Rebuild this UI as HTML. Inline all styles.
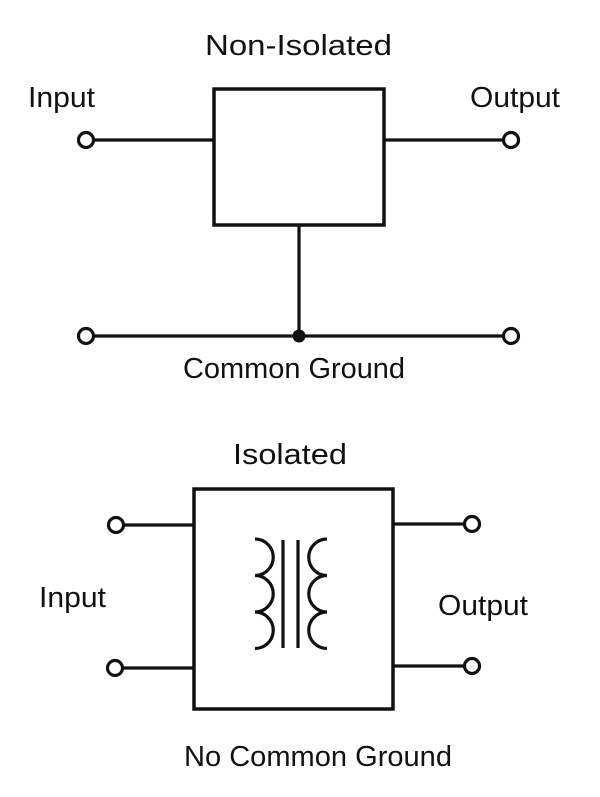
<!DOCTYPE html>
<html>
<head>
<meta charset="utf-8">
<style>
  html, body { margin: 0; padding: 0; background: #ffffff; }
  body { width: 600px; height: 797px; overflow: hidden; }
  svg { display: block; }
  text { font-family: "Liberation Sans", "DejaVu Sans", sans-serif; font-size: 29px; fill: #111; }
</style>
</head>
<body>
<svg width="600" height="797" viewBox="0 0 600 797" xmlns="http://www.w3.org/2000/svg">
  <rect x="0" y="0" width="600" height="797" fill="#ffffff"/>

  <!-- ===== Top: Non-Isolated ===== -->
  <text x="205" y="55" textLength="187" lengthAdjust="spacingAndGlyphs">Non-Isolated</text>
  <text x="28" y="107" textLength="67" lengthAdjust="spacingAndGlyphs">Input</text>
  <text x="470" y="107" textLength="90" lengthAdjust="spacingAndGlyphs">Output</text>

  <g stroke="#111" fill="none" stroke-width="3.2">
    <rect x="214" y="89" width="170" height="136" stroke-width="3.5"/>
    <line x1="93.5" y1="140" x2="214" y2="140"/>
    <line x1="384" y1="140" x2="503.5" y2="140"/>
    <line x1="299" y1="225" x2="299" y2="336"/>
    <line x1="93.5" y1="336" x2="503.5" y2="336"/>
    <circle cx="86" cy="140" r="7.5" fill="#fff"/>
    <circle cx="511" cy="140" r="7.5" fill="#fff"/>
    <circle cx="86" cy="336" r="7.5" fill="#fff"/>
    <circle cx="511" cy="336" r="7.5" fill="#fff"/>
  </g>
  <circle cx="299" cy="336" r="6.5" fill="#111"/>

  <text x="183" y="378" textLength="222" lengthAdjust="spacingAndGlyphs">Common Ground</text>

  <!-- ===== Bottom: Isolated ===== -->
  <text x="233" y="464" textLength="114" lengthAdjust="spacingAndGlyphs">Isolated</text>

  <g stroke="#111" fill="none" stroke-width="3.2">
    <rect x="194" y="489" width="199" height="220" stroke-width="3.5"/>
    <line x1="123.5" y1="525" x2="194" y2="525"/>
    <line x1="122.5" y1="668" x2="194" y2="668"/>
    <line x1="393" y1="524" x2="464.5" y2="524"/>
    <line x1="393" y1="666" x2="464.5" y2="666"/>
    <circle cx="116" cy="525" r="7.5" fill="#fff"/>
    <circle cx="115" cy="668" r="7.5" fill="#fff"/>
    <circle cx="472" cy="524" r="7.5" fill="#fff"/>
    <circle cx="472" cy="666" r="7.5" fill="#fff"/>

    <!-- transformer -->
    <path d="M255,539 A18.2,18.2 0 0 1 255,575.5 A18.2,18.2 0 0 1 255,612 A18.2,18.2 0 0 1 255,648.5"/>
    <path d="M327,539 A18.2,18.2 0 0 0 327,575.5 A18.2,18.2 0 0 0 327,612 A18.2,18.2 0 0 0 327,648.5"/>
    <line x1="283" y1="540" x2="283" y2="648"/>
    <line x1="298" y1="540" x2="298" y2="648"/>
  </g>

  <text x="39" y="607" textLength="67" lengthAdjust="spacingAndGlyphs">Input</text>
  <text x="438" y="615" textLength="90" lengthAdjust="spacingAndGlyphs">Output</text>

  <text x="184" y="766" textLength="268" lengthAdjust="spacingAndGlyphs">No Common Ground</text>
</svg>
</body>
</html>
